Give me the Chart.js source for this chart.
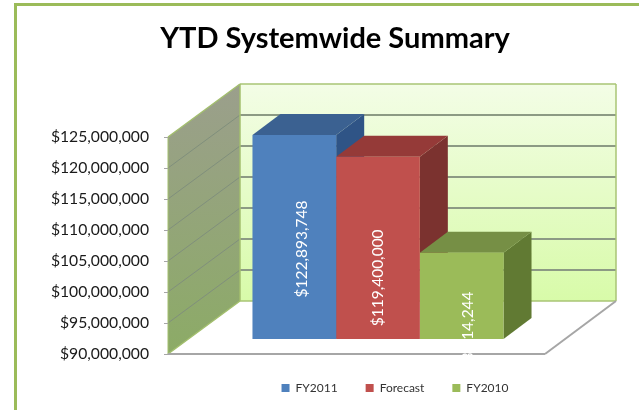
<!DOCTYPE html>
<html>
<head>
<meta charset="utf-8">
<title>YTD Systemwide Summary</title>
<script src="https://cdn.jsdelivr.net/npm/chart.js@4"></script>
<style>
  html, body { margin: 0; padding: 0; background: #fff; }
  canvas { display: block; }
</style>
</head>
<body>
<canvas id="myChart" width="639" height="410"></canvas>
<script>
const categories = ["YTD"];
const seriesNames = ["FY2011", "Forecast", "FY2010"];
const fy2011Values = [122893748];
const forecastValues = [119400000];
const fy2010Values = [103914244];
const valueLabels = ["$122,893,748", "$119,400,000", "$103,914,244"];
const tickValues = [90000000, 95000000, 100000000, 105000000, 110000000, 115000000, 120000000, 125000000];

const frontColors = ["#4f81bd", "#c0504d", "#9bbb59"];
const topColors = ["#3b6191", "#953a38", "#768f45"];
const sideColors = ["#2f5486", "#7b322f", "#617a33"];

// fake 3d: how far the walls and bars go back, and where the bars stand on the floor
const wallDepth = { x: 72, y: -53 };
const barDepth = { x: 28, y: -21 };
const barPlane = { x: -17, y: -15 };
const labelNudge = [{ x: 8, y: 12 }, { x: 0, y: 30 }, { x: 6, y: 44 }];

function poly(ctx, pts, fill) {
  ctx.beginPath();
  ctx.moveTo(pts[0][0], pts[0][1]);
  pts.slice(1).forEach((p) => ctx.lineTo(p[0], p[1]));
  ctx.closePath();
  ctx.fillStyle = fill;
  ctx.fill();
}

function line(ctx, x1, y1, x2, y2, color, width) {
  ctx.beginPath();
  ctx.moveTo(x1, y1);
  ctx.lineTo(x2, y2);
  ctx.strokeStyle = color;
  ctx.lineWidth = width;
  ctx.stroke();
}

const walls3d = {
  id: "walls3d",
  beforeDraw(chart) {
    const { ctx, chartArea } = chart;
    const left = chartArea.left;
    const bottom = chartArea.bottom;
    const top = chartArea.top;
    const frontRight = chartArea.right - 77;
    const backLeft = left + wallDepth.x;
    const backRight = frontRight + 71;
    const backTop = top + wallDepth.y;
    const backBottom = bottom + wallDepth.y;

    ctx.save();
    // outer frame, only top and left show
    ctx.fillStyle = "#9bbb59";
    ctx.fillRect(14, 3, 625, 3);
    ctx.fillRect(14, 3, 3, 407);

    const backFill = ctx.createLinearGradient(0, backTop, 0, backBottom);
    backFill.addColorStop(0, "#f3fde6");
    backFill.addColorStop(1, "#d8fba9");
    poly(ctx, [[backLeft, backTop], [backRight, backTop], [backRight, backBottom], [backLeft, backBottom]], backFill);

    const sideFill = ctx.createLinearGradient(0, backTop, 0, bottom);
    sideFill.addColorStop(0, "#9b9f8c");
    sideFill.addColorStop(1, "#8cab66");
    poly(ctx, [[left, top], [backLeft, backTop], [backLeft, backBottom], [left, bottom]], sideFill);

    const y = chart.scales.y;
    tickValues.slice(1, -1).forEach((v) => {
      const py = y.getPixelForValue(v);
      line(ctx, left, py, backLeft, py + wallDepth.y, "#808f7c", 1);
      line(ctx, backLeft, py + wallDepth.y, backRight, py + wallDepth.y, "#8c9a84", 2);
    });

    // wall edges
    ctx.lineJoin = "round";
    line(ctx, left, top, backLeft, backTop, "#a3bf6e", 1.5);
    line(ctx, backLeft, backTop, backRight, backTop, "#a9c574", 1.5);
    line(ctx, backRight, backTop, backRight, backBottom, "#a9c574", 1.5);
    line(ctx, backLeft, backTop, backLeft, backBottom, "#a3bf6e", 1.5);
    line(ctx, backLeft, backBottom, backRight, backBottom, "#a9c574", 1.5);
    line(ctx, left, bottom, backLeft, backBottom, "#a3bf6e", 1.5);
    line(ctx, left, top, left, bottom, "#a3bf6e", 1);

    // floor edges
    line(ctx, left, bottom, frontRight, bottom, "#a6a6a6", 2);
    line(ctx, frontRight, bottom, backRight, backBottom, "#a6a6a6", 2);
    ctx.restore();
  },
  beforeDatasetsDraw(chart) {
    const { ctx, chartArea } = chart;
    const foot = chartArea.bottom;
    ctx.save();
    ctx.translate(barPlane.x, barPlane.y);
    // left to right so each top covers the side of the bar before it
    chart.data.datasets.forEach((ds, i) => {
      const bar = chart.getDatasetMeta(i).data[0];
      const l = bar.x - bar.width / 2;
      const r = bar.x + bar.width / 2;
      poly(ctx, [[r, bar.y], [r + barDepth.x, bar.y + barDepth.y], [r + barDepth.x, foot + barDepth.y], [r, foot]], sideColors[i]);
      poly(ctx, [[l, bar.y], [l + barDepth.x, bar.y + barDepth.y], [r + barDepth.x, bar.y + barDepth.y], [r, bar.y]], topColors[i]);
    });
  },
  afterDatasetsDraw(chart) {
    const { ctx, chartArea } = chart;
    ctx.restore();
    ctx.save();
    // the labels run off the bar on to the white floor, nothing shows past the floor edge
    ctx.beginPath();
    ctx.rect(0, 0, chart.width, chartArea.bottom + 4);
    ctx.clip();
    ctx.fillStyle = "#ffffff";
    ctx.font = "15.5px Lato";
    ctx.textAlign = "center";
    ctx.textBaseline = "middle";
    chart.data.datasets.forEach((ds, i) => {
      const bar = chart.getDatasetMeta(i).data[0];
      const cx = bar.x + barPlane.x + labelNudge[i].x;
      const cy = (bar.y + chartArea.bottom) / 2 + barPlane.y + labelNudge[i].y;
      ctx.save();
      ctx.translate(cx, cy);
      ctx.rotate(-Math.PI / 2);
      ctx.fillText(valueLabels[i], 0, 0);
      ctx.restore();
    });
    ctx.restore();
  },
};

const seriesValues = [fy2011Values, forecastValues, fy2010Values];

new Chart(document.getElementById("myChart"), {
  type: "bar",
  data: {
    labels: categories,
    datasets: seriesNames.map((name, i) => ({
      label: name,
      data: seriesValues[i],
      backgroundColor: frontColors[i],
      borderWidth: 0,
      categoryPercentage: 0.553,
      barPercentage: 1,
    })),
  },
  options: {
    responsive: false,
    animation: false,
    layout: { padding: { left: 48, right: 17, top: 0, bottom: 6 } },
    scales: {
      x: { display: false },
      y: {
        min: tickValues[0],
        max: tickValues[tickValues.length - 1],
        afterFit(axis) {
          axis.width = 120;
        },
        afterBuildTicks(axis) {
          axis.ticks = tickValues.map((v) => ({ value: v }));
        },
        ticks: {
          padding: 15,
          color: "#1a1a1a",
          font: { family: "Lato", size: 15.7 },
          callback: (v) => "$" + Number(v).toLocaleString("en-US"),
        },
        grid: { drawOnChartArea: false, tickLength: 4, color: "#a6a6a6" },
        border: { display: false },
      },
    },
    plugins: {
      title: {
        display: true,
        text: "YTD Systemwide Summary",
        color: "#000000",
        font: { family: "Lato", size: 29, weight: "bold" },
        padding: { top: 21, bottom: 81.2 },
      },
      legend: {
        position: "bottom",
        fullSize: false,
        labels: {
          boxWidth: 8,
          boxHeight: 8,
          padding: 28,
          color: "#333333",
          font: { family: "Lato", size: 12 },
        },
      },
      tooltip: { enabled: false },
    },
  },
  plugins: [walls3d],
});
</script>
</body>
</html>
